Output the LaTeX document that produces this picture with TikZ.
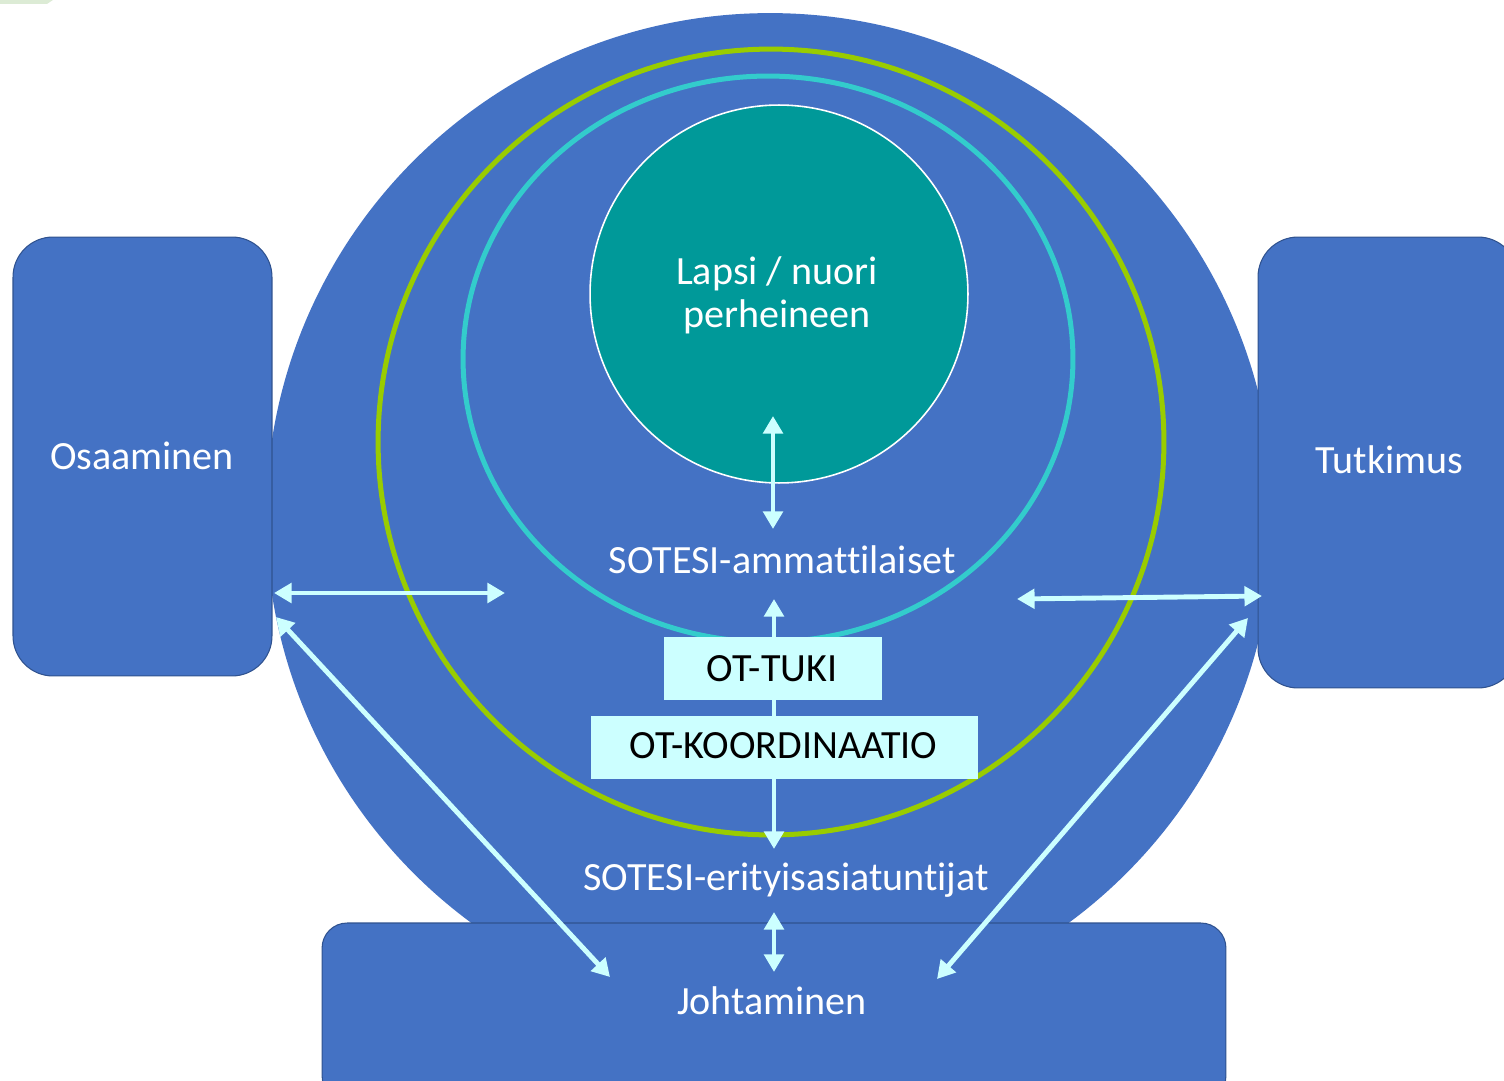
\documentclass[tikz,border=0pt]{standalone}
\usepackage{fontspec}
\setmainfont{Carlito}[Ligatures=NoCommon]
\usetikzlibrary{arrows.meta,shapes.geometric}
\definecolor{bgblue}{HTML}{4472C4}
\definecolor{edgeblue}{HTML}{2F528F}
\definecolor{ringgreen}{HTML}{99CC00}
\definecolor{ringcyan}{HTML}{33CCCC}
\definecolor{tealfill}{HTML}{009999}
\definecolor{lightcyan}{HTML}{CCFFFF}
\definecolor{cornergreen}{HTML}{DCEBD5}
\begin{document}
\begin{tikzpicture}[x=0.02cm,y=-0.02cm,
  lbl/.style={font=\fontsize{22.8}{25}\selectfont, text=white, inner sep=0pt, anchor=base},
  dlbl/.style={lbl, text=black},
  sidebox/.style={draw=edgeblue, line width=0.6pt, fill=bgblue, rounded corners=0.8cm, inner sep=0pt},
  otbox/.style={fill=lightcyan, inner sep=0pt},
  link/.style={draw=lightcyan, line width=2.8pt, {Triangle[width=11pt,length=10pt]}-{Triangle[width=11pt,length=10pt]}},
  ring/.style={draw, line width=2.85pt, inner sep=0pt}
]
\useasboundingbox (0,0) rectangle (1504,1081);
\fill[cornergreen] (0,0) -- (53,0) -- (47,4) -- (0,4) -- cycle;
% concentric shapes
\node[circle, fill=bgblue, minimum size=20.16cm, inner sep=0pt] (outer) at (770,517) {};
\node[circle, ring, draw=ringgreen, minimum size=15.72cm] (green) at (771,442) {};
\node[ellipse, ring, draw=ringcyan, minimum width=12.2cm, minimum height=11.32cm] (cyan) at (768,359) {};
\node[circle, fill=tealfill, draw=white, line width=0.9pt, minimum size=7.56cm, inner sep=0pt] (child) at (779,294) {};
\node[font=\fontsize{22.8}{24.5}\selectfont, text=white, align=center, inner sep=0pt] (childtxt) at (777,295) {Lapsi / nuori\\perheineen};
% side and bottom boxes
\node[sidebox, minimum width=5.18cm, minimum height=8.78cm] (osa) at (142.5,456.5) {};
\node[sidebox, minimum width=5.2cm, minimum height=9.02cm] (tut) at (1388,462.5) {};
\node[sidebox, rounded corners=0.5cm, minimum width=18.08cm, minimum height=3.56cm] (joh) at (774,1012) {};
% arrow coordinates
\coordinate (c1) at (773,416);
\coordinate (c2) at (773,529);
\coordinate (o1) at (774,599);
\coordinate (o2) at (774,849);
\coordinate (e1) at (774,912);
\coordinate (e2) at (774,972);
\coordinate (l1) at (274,593);
\coordinate (l2) at (505,593);
\coordinate (r1) at (1017,599);
\coordinate (r2) at (1262,596);
\coordinate (ld1) at (276,617);
\coordinate (ld2) at (610,977);
\coordinate (rd1) at (1248,618);
\coordinate (rd2) at (937,979);
\draw[link] (o1) -- (o2);
% OT boxes
\node[otbox, minimum width=4.36cm, minimum height=1.28cm] (tuki) at (773,668.5) {};
\node[otbox, minimum width=7.74cm, minimum height=1.26cm] (koord) at (784.5,747.5) {};
% other arrows
\draw[link] (c1) -- (c2);
\draw[link] (e1) -- (e2);
\draw[link] (l1) -- (l2);
\draw[link] (r1) -- (r2);
\draw[link] (ld1) -- (ld2);
\draw[link] (rd1) -- (rd2);
% labels
\node[lbl] (osatxt) at (142,469) {Osaaminen};
\node[lbl] (tuttxt) at (1389.5,473) {Tutkimus};
\node[lbl] (amtxt) at (782.5,573) {SOTESI-ammattilaiset};
\node[dlbl] (tukitxt) at (772,681) {OT-TUKI};
\node[dlbl] (koordtxt) at (783.5,758) {OT-KOORDINAATIO};
\node[lbl] (eritxt) at (786,890) {SOTESI-erityisasiatuntijat};
\node[lbl] (johtxt) at (772,1014) {Johtaminen};
\end{tikzpicture}
\end{document}
